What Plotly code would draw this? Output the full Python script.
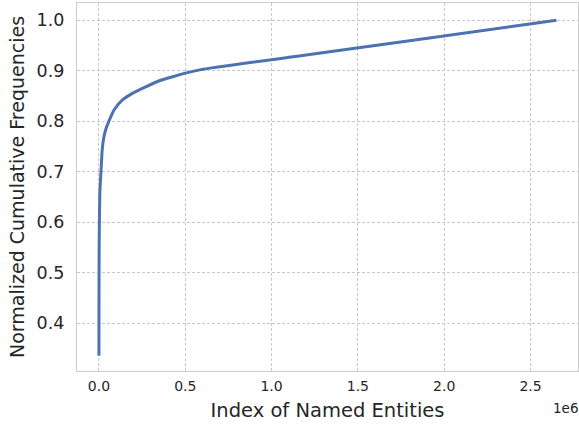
import plotly.graph_objects as go

# data
entity_index = [0, 300, 800, 1500, 3000, 6000, 12000, 19000, 28000, 39000, 58000, 87500, 136000,
                194000, 272000, 350000, 428000, 500000, 590000, 1200000, 1800000, 2650000]
cum_freq = [0.335, 0.42, 0.50, 0.56, 0.61, 0.664, 0.70, 0.743, 0.767, 0.783, 0.800, 0.822, 0.842,
            0.855, 0.868, 0.880, 0.888, 0.895, 0.902, 0.931, 0.959, 1.000]
x_ticks = [0, 0.5e6, 1.0e6, 1.5e6, 2.0e6, 2.5e6]
x_tick_text = ["0.0", "0.5", "1.0", "1.5", "2.0", "2.5"]
y_ticks = [0.4, 0.5, 0.6, 0.7, 0.8, 0.9, 1.0]
y_tick_text = ["0.4", "0.5", "0.6", "0.7", "0.8", "0.9", "1.0"]

font = "DejaVu Sans"
fig = go.Figure()
fig.add_trace(go.Scatter(x=entity_index, y=cum_freq, mode="lines",
                         line=dict(color="#4c72b0", width=3, shape="spline", smoothing=0.6),
                         showlegend=False))

axis_common = dict(showgrid=True, gridcolor="#c8c8c8", gridwidth=0.8, griddash="3px,2px",
                   showline=True, linecolor="#cccccc", linewidth=1.3, mirror=True,
                   zeroline=False, ticks="", color="#262626", automargin=False)
fig.update_xaxes(range=[-0.127e6, 2.775e6], tickvals=x_ticks, ticktext=x_tick_text,
                 tickfont=dict(family=font, size=14, color="#262626"), ticklabelstandoff=2,
                 title=dict(text="Index of Named Entities", font=dict(family=font, size=19.5, color="#262626"), standoff=10),
                 **axis_common)
fig.update_yaxes(range=[0.305, 1.034], tickvals=y_ticks, ticktext=y_tick_text,
                 tickfont=dict(family=font, size=17.5, color="#262626"), ticklabelstandoff=8,
                 title=dict(text="Normalized Cumulative Frequencies", font=dict(family=font, size=19, color="#262626"), standoff=6),
                 **axis_common)
fig.add_annotation(text="1e6", xref="paper", yref="paper", x=1.003, y=-0.1,
                   xanchor="right", yanchor="middle", showarrow=False,
                   font=dict(family=font, size=13.5, color="#262626"))
fig.update_layout(width=579, height=425, plot_bgcolor="white", paper_bgcolor="white",
                  margin=dict(l=77, r=1, t=3, b=54))
fig.write_html("out.html", config={"displayModeBar": False},
               post_script="document.body.style.margin='0';document.body.style.overflow='hidden';")
